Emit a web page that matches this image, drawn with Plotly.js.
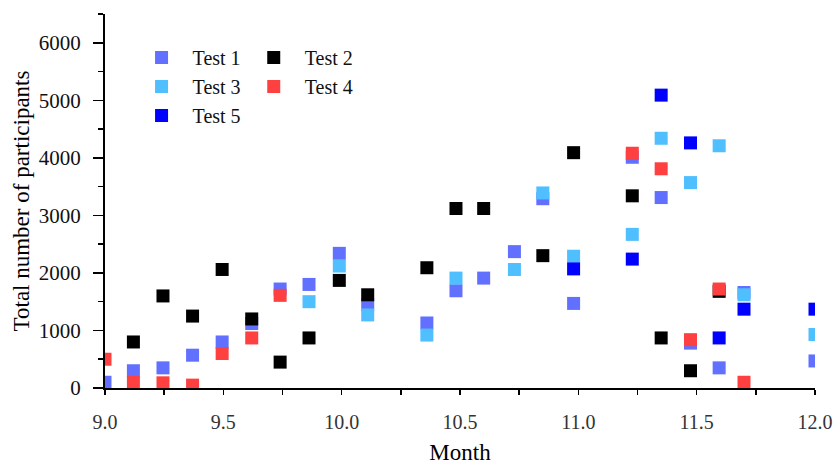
<!DOCTYPE html>
<html>
<head>
<meta charset="utf-8">
<script src="https://cdn.plot.ly/plotly-3.0.1.min.js"></script>
<style>html,body{margin:0;padding:0;background:#fff;}#chart{width:837px;height:466px;}</style>
</head>
<body>
<div id="chart"></div>
<script>
const seriesNames = ["Test 1", "Test 2", "Test 3", "Test 4", "Test 5"];

const test1X = [9.0, 9.12, 9.245, 9.37, 9.495, 9.62, 9.74, 9.862, 9.99, 10.11, 10.36, 10.483, 10.6, 10.73, 10.85, 10.98, 11.228, 11.35, 11.474, 11.595, 11.7, 12.0];
const test1Y = [100, 300, 350, 570, 800, 1120, 1720, 1800, 2340, 1450, 1130, 1690, 1910, 2370, 3290, 1470, 4010, 3310, 780, 350, 1660, 470];

const test2X = [9.12, 9.245, 9.37, 9.495, 9.62, 9.74, 9.862, 9.99, 10.11, 10.36, 10.483, 10.6, 10.85, 10.98, 11.228, 11.35, 11.474, 11.595];
const test2Y = [800, 1600, 1250, 2060, 1200, 450, 870, 1870, 1620, 2090, 3120, 3120, 2300, 4090, 3340, 870, 300, 1680];

const test3X = [9.862, 9.99, 10.11, 10.36, 10.483, 10.73, 10.85, 10.98, 11.228, 11.35, 11.474, 11.595, 11.7, 12.0];
const test3Y = [1500, 2120, 1270, 920, 1910, 2060, 3390, 2290, 2670, 4340, 3570, 4210, 1620, 930];

const test4X = [9.0, 9.12, 9.245, 9.37, 9.495, 9.62, 9.74, 11.228, 11.35, 11.474, 11.595, 11.7];
const test4Y = [500, 100, 90, 50, 600, 870, 1610, 4080, 3810, 840, 1720, 100];

const test5X = [10.98, 11.228, 11.35, 11.474, 11.595, 11.7, 12.0];
const test5Y = [2070, 2240, 5090, 4260, 870, 1370, 1370];

const xTickVals = [9.0, 9.5, 10.0, 10.5, 11.0, 11.5, 12.0];
const xTickText = ["9.0", "9.5", "10.0", "10.5", "11.0", "11.5", "12.0"];
const yTickVals = [0, 1000, 2000, 3000, 4000, 5000, 6000];

const colors = ["#6170FF", "#000000", "#4FBFFF", "#FF4040", "#0000FF"];
const xs = [test1X, test2X, test3X, test4X, test5X];
const ys = [test1Y, test2Y, test3Y, test4Y, test5Y];
const legendOf = ["legend", "legend2", "legend", "legend2", "legend"];

const FONT = "Liberation Serif, Times New Roman, serif";

const traces = seriesNames.map((name, i) => ({
  type: "scatter",
  mode: "markers",
  name: name,
  x: xs[i],
  y: ys[i],
  legend: legendOf[i],
  cliponaxis: true,
  marker: {symbol: "square", size: 13, color: colors[i], line: {width: 0}}
}));

const legendBase = {
  yanchor: "top", xanchor: "left", y: 0.936,
  bgcolor: "rgba(0,0,0,0)", borderwidth: 0,
  font: {family: FONT, size: 20, color: "#111"},
  itemwidth: 52, orientation: "v", tracegroupgap: 0
};

const layout = {
  width: 837, height: 466,
  margin: {l: 105, r: 22, t: 14, b: 78},
  paper_bgcolor: "#fff", plot_bgcolor: "#fff",
  showlegend: true,
  legend: Object.assign({}, legendBase, {x: 0.036}),
  legend2: Object.assign({}, legendBase, {x: 0.194}),
  xaxis: {
    range: [9, 12], autorange: false,
    tickmode: "array", tickvals: xTickVals, ticktext: xTickText,
    ticks: "outside", ticklen: 5, tickwidth: 1.5, tickcolor: "#000",
    minor: {dtick: 0.25, ticks: "outside", ticklen: 5, tickwidth: 1.5, tickcolor: "#000"},
    showline: true, linecolor: "#000", linewidth: 2,
    showgrid: false, zeroline: false,
    tickfont: {family: FONT, size: 20, color: "#333"},
    ticklabelstandoff: 10,
    title: {text: "Month", font: {family: FONT, size: 23, color: "#000"}, standoff: 12}
  },
  yaxis: {
    range: [0, 6500], autorange: false,
    tickmode: "array", tickvals: yTickVals,
    ticks: "outside", ticklen: 10, tickwidth: 1.5, tickcolor: "#000",
    minor: {dtick: 500, ticks: "outside", ticklen: 5, tickwidth: 1.5, tickcolor: "#000"},
    showline: true, linecolor: "#000", linewidth: 2,
    showgrid: false, zeroline: false,
    tickfont: {family: FONT, size: 21, color: "#111"},
    ticklabelstandoff: 8,
    title: {text: "Total number of participants", font: {family: FONT, size: 23, color: "#000"}, standoff: 3}
  }
};

Plotly.newPlot("chart", traces, layout, {displayModeBar: false, staticPlot: true});
</script>
</body>
</html>
